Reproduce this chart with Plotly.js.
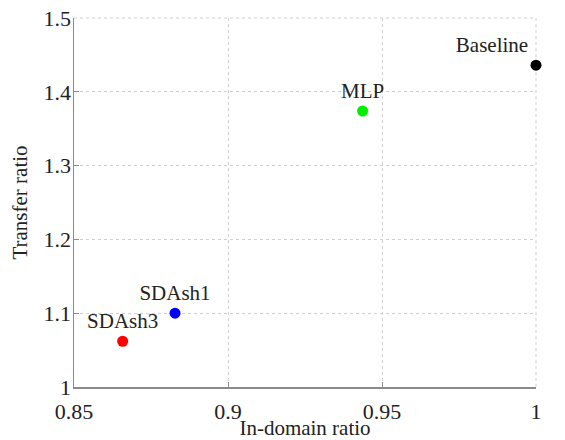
<!DOCTYPE html>
<html>
<head>
<meta charset="utf-8">
<script src="https://cdn.plot.ly/plotly-3.0.1.min.js"></script>
<style>html,body{margin:0;padding:0;background:#fff;}#chart{width:565px;height:440px;}</style>
</head>
<body>
<div id="chart"></div>
<script>
var methods = ["Baseline", "MLP", "SDAsh1", "SDAsh3"];
var inDomainRatio = [1.0, 0.9437, 0.8828, 0.8658];
var transferRatio = [1.436, 1.374, 1.100, 1.062];
var xTickVals = [0.85, 0.9, 0.95, 1];
var xTickText = ["0.85", "0.9", "0.95", "1"];
var yTickVals = [1, 1.1, 1.2, 1.3, 1.4, 1.5];
var yTickText = ["1", "1.1", "1.2", "1.3", "1.4", "1.5"];
var pointColors = ["#000000", "#00ee00", "#0000ff", "#ff0000"];
var labelPositions = ["top left", "top center", "top center", "top center"];

var font = "'Times New Roman', 'Liberation Serif', 'DejaVu Serif', serif";

var trace = {
  type: "scatter",
  mode: "markers+text",
  x: inDomainRatio,
  y: transferRatio,
  text: methods,
  textposition: labelPositions,
  textfont: {family: font, size: 21, color: "#222"},
  marker: {size: 11, color: pointColors},
  cliponaxis: false,
  hoverinfo: "none"
};

var axisCommon = {
  showline: true,
  linecolor: "#8a8a8a",
  linewidth: 1.5,
  mirror: false,
  showgrid: true,
  gridcolor: "#cfcfcf",
  griddash: "dot",
  gridwidth: 1,
  zeroline: false,
  ticks: "inside",
  ticklen: 5,
  tickcolor: "#8a8a8a",
  tickfont: {family: font, size: 22, color: "#222"},
  tickmode: "array"
};

var layout = {
  width: 565,
  height: 440,
  margin: {l: 74, r: 29, t: 18, b: 53},
  paper_bgcolor: "#fff",
  plot_bgcolor: "#fff",
  showlegend: false,
  font: {family: font},
  xaxis: Object.assign({}, axisCommon, {
    range: [0.85, 1],
    tickvals: xTickVals,
    ticktext: xTickText,
    ticklabelstandoff: 4,
    title: {text: "In-domain ratio", font: {family: font, size: 21, color: "#222"}, standoff: 0}
  }),
  yaxis: Object.assign({}, axisCommon, {
    range: [1, 1.5],
    tickvals: yTickVals,
    ticktext: yTickText,
    ticklabelstandoff: -3,
    title: {text: "Transfer ratio", font: {family: font, size: 21, color: "#222"}, standoff: 10}
  }),
  shapes: [
    {type: "line", xref: "paper", yref: "paper", x0: 0, x1: 1, y0: 1, y1: 1, layer: "below",
     line: {color: "#cfcfcf", width: 1, dash: "dot"}},
    {type: "line", xref: "paper", yref: "paper", x0: 1, x1: 1, y0: 0, y1: 1, layer: "below",
     line: {color: "#cfcfcf", width: 1, dash: "dot"}}
  ]
};

Plotly.newPlot("chart", [trace], layout, {displayModeBar: false, staticPlot: true});
</script>
</body>
</html>
